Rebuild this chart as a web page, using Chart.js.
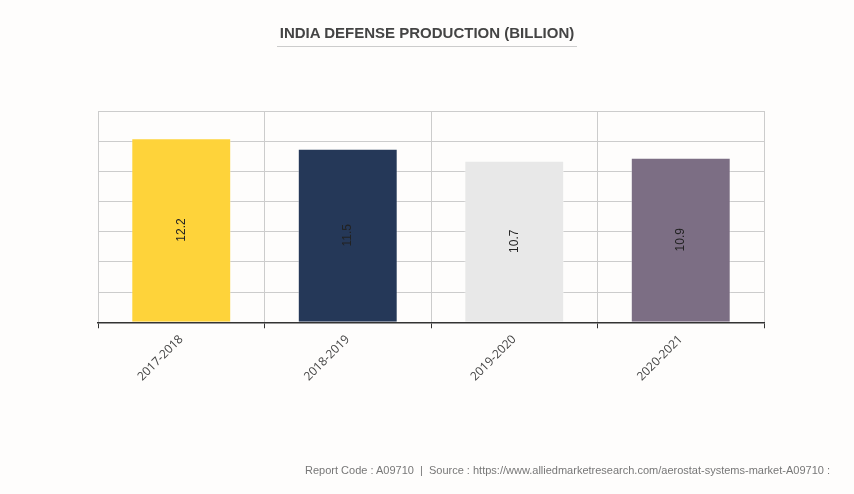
<!DOCTYPE html>
<html>
<head>
<meta charset="utf-8">
<script src="https://cdn.jsdelivr.net/npm/chart.js@4.4.0/dist/chart.umd.min.js"></script>
<style>
  html, body { margin: 0; padding: 0; background: #fefdfc; }
  #wrap { position: relative; width: 854px; height: 494px; overflow: hidden; }
  #title {
    position: absolute; left: 0; width: 854px; top: 24px; text-align: center;
    font: bold 15px "Liberation Sans", Arial, sans-serif; color: #444;
  }
  #title span { display: inline-block; padding: 0 3px 5px; border-bottom: 1px solid #ccc; }
  #footer {
    position: absolute; right: 24px; top: 464px;
    font: 11px "Liberation Sans", Arial, sans-serif; color: #777; white-space: pre;
  }
  canvas { position: absolute; left: 0; top: 0; }
</style>
</head>
<body>
<div id="wrap">
  <canvas id="chart" width="854" height="494"></canvas>
  <div id="title"><span>INDIA DEFENSE PRODUCTION (BILLION)</span></div>
  <div id="footer">Report Code : A09710  |  Source : https://www.alliedmarketresearch.com/aerostat-systems-market-A09710 :</div>
</div>
<script>
// Data
const years = ['2017-2018', '2018-2019', '2019-2020', '2020-2021'];
const production = [12.2, 11.5, 10.7, 10.9];
const barColors = ['#fed33a', '#253858', '#e8e8e8', '#7c6e84'];

// Vertical value labels in the middle of each bar
const barLabels = {
    id: 'barLabels',
    afterDatasetsDraw(chart) {
        const ctx = chart.ctx;
        const meta = chart.getDatasetMeta(0);
        ctx.save();
        ctx.font = '12px "Liberation Sans", Arial, sans-serif';
        ctx.fillStyle = '#222';
        ctx.textAlign = 'center';
        ctx.textBaseline = 'middle';
        meta.data.forEach((bar, i) => {
            const midY = (bar.y + bar.base) / 2;
            ctx.save();
            ctx.translate(bar.x, midY);
            ctx.rotate(-Math.PI / 2);
            ctx.fillText(production[i], 0, 0);
            ctx.restore();
        });
        ctx.restore();
    }
};

new Chart(document.getElementById('chart'), {
    type: 'bar',
    data: {
        labels: years,
        datasets: [{
            data: production,
            backgroundColor: barColors,
            borderColor: 'rgba(255,255,255,0.35)',
            borderWidth: 1,
            barPercentage: 0.6,
            categoryPercentage: 1
        }]
    },
    options: {
        responsive: false,
        animation: false,
        layout: { padding: { left: 98, right: 90, top: 111, bottom: 106 } },
        plugins: {
            legend: { display: false },
            tooltip: { enabled: false }
        },
        scales: {
            x: {
                offset: true,
                grid: {
                    offset: true,
                    color: '#cccccc',
                    tickColor: '#333',
                    tickLength: 6,
                    drawOnChartArea: true
                },
                border: { color: '#333', width: 1.5 },
                ticks: {
                    color: '#444',
                    font: { family: '"Open Sans", sans-serif', size: 12 },
                    minRotation: 45,
                    maxRotation: 45,
                    padding: 4
                }
            },
            y: {
                min: 0,
                max: 14,
                ticks: { display: false, stepSize: 2 },
                grid: { color: '#cccccc', drawTicks: false },
                border: { display: false }
            }
        }
    },
    plugins: [barLabels]
});
</script>
</body>
</html>
